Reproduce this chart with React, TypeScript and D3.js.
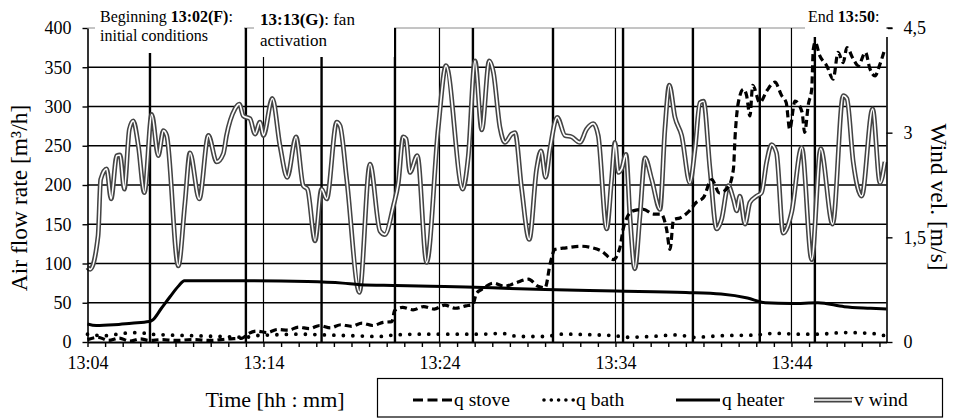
import React, { useEffect, useRef } from "react";
import * as d3 from "d3";

// time is in minutes after 13:04
const xTickLabels = ["13:04", "13:14", "13:24", "13:34", "13:44"];
const leftTicks = [0, 50, 100, 150, 200, 250, 300, 350, 400];
const rightTicks = [0, 1.5, 3, 4.5];
const eventMinutes = [3.55, 9.0, 13.3, 17.47, 21.9, 26.45, 30.43, 34.4, 38.2, 41.33];

// air flow rates [m3/h]
const qHeater: [number, number][] = [
  [0, 23], [0.5, 21], [1.5, 22], [2.5, 24], [3.5, 26], [3.7, 28], [4.2, 43], [4.7, 58],
  [5.2, 72], [5.5, 78], [9, 78], [12.5, 77], [14.5, 75], [15.5, 73], [17.5, 72], [19.5, 71],
  [21.5, 70], [23, 69], [26, 67], [30, 65], [34, 63], [36, 61], [37.5, 56], [38.5, 50],
  [40, 49], [41.5, 50], [43, 45], [44.5, 43], [45.4, 42],
];

const qStove: [number, number][] = [
  [0, 3], [0.6, 6], [1.2, 2], [1.8, 5], [2.4, 1], [3, 4], [3.5, 2], [4.2, 3], [5, 2], [6, 3],
  [7, 2], [8, 4], [8.8, 5], [9.1, 10], [9.6, 14], [10.2, 12], [10.8, 16], [11.4, 15], [12, 19],
  [12.6, 17], [13.2, 21], [13.8, 18], [14.4, 22], [15, 20], [15.6, 24], [16.2, 21], [16.8, 25],
  [17.3, 26], [17.45, 40], [17.9, 44], [18.5, 41], [19.1, 45], [19.7, 42], [20.3, 47], [20.9, 43],
  [21.5, 46], [21.9, 48], [22.1, 62], [22.4, 67], [23.06, 75], [23.7, 71], [24.3, 75], [25.05, 80],
  [25.6, 71], [26.0, 69], [26.3, 101], [26.56, 118], [27.2, 120], [28, 122], [28.7, 120],
  [29.2, 116], [29.87, 105], [30.25, 120], [30.44, 144], [30.6, 156], [31.0, 167], [31.6, 169],
  [32.15, 163], [32.6, 163], [32.9, 144], [33.1, 118], [33.3, 156], [33.66, 158], [34.2, 167],
  [34.6, 178], [35.0, 184], [35.47, 207], [35.9, 190], [36.4, 197], [36.7, 220], [36.8, 263],
  [36.98, 305], [37.27, 322], [37.45, 314], [37.64, 288], [37.8, 327], [38.2, 305], [38.6, 320],
  [39.06, 331], [39.44, 314], [39.7, 305], [39.9, 271], [40.2, 307], [40.6, 293], [40.75, 267],
  [40.96, 303], [41.15, 322], [41.24, 373], [41.35, 382], [41.6, 365], [42, 352], [42.37, 335],
  [42.65, 369], [42.94, 356], [43.15, 375], [43.5, 361], [43.8, 352], [44.2, 369], [44.46, 348],
  [44.75, 339], [45.0, 352], [45.3, 373],
];

const qBath: [number, number][] = [
  [0, 10], [1, 8], [2, 11], [3, 12], [3.5, 10], [4.5, 9], [6, 8], [7.5, 7], [9, 6], [9.5, 8],
  [10.5, 9], [12, 10], [13.5, 9], [15, 8], [16.5, 7], [17.5, 9], [19, 10], [21, 10], [22.5, 10],
  [23.5, 11], [24.5, 7], [26, 7], [27, 10], [29, 9], [30, 8], [30.5, 6], [32, 7], [33.5, 9],
  [34.5, 6], [36, 8], [38, 9], [39, 11], [40.5, 10], [41.5, 10], [43, 12], [44.5, 11], [45.3, 8],
];

// wind velocity [m/s]
const vWind: [number, number][] = [
  [0, 1.07], [0.15, 1.04], [0.6, 1.52], [0.75, 2.33], [1.09, 2.48], [1.34, 2.05], [1.66, 2.67],
  [1.85, 2.68], [2.09, 2.19], [2.38, 3.05], [2.6, 3.17], [2.89, 2.81], [3.23, 2.14], [3.65, 3.26],
  [4.02, 2.67], [4.31, 3.03], [4.5, 2.96], [5.16, 1.09], [5.54, 2.0], [5.82, 2.71], [6.35, 2.05],
  [6.87, 2.96], [7.34, 2.58], [7.72, 2.7], [7.9, 2.96], [8.38, 3.34], [8.63, 3.41], [8.85, 3.24],
  [9.23, 3.2], [9.52, 2.98], [9.8, 3.15], [10.0, 2.96], [10.5, 3.49], [10.94, 2.81], [11.35, 2.36],
  [11.85, 2.94], [12.26, 2.24], [12.5, 2.19], [12.93, 1.45], [13.3, 2.19], [13.59, 2.05],
  [14.16, 3.15], [14.35, 3.1], [14.73, 2.33], [15.45, 0.71], [16.05, 2.55], [16.62, 1.59],
  [16.9, 1.54], [17.38, 1.95], [17.66, 2.28], [17.94, 2.94], [18.1, 2.91], [18.32, 2.43],
  [18.74, 2.67], [19.27, 1.14], [19.93, 3.07], [20.37, 3.96], [21.32, 2.19], [21.64, 2.67],
  [22.02, 4.03], [22.4, 3.04], [22.83, 4.03], [23.06, 3.87], [23.44, 3.07], [23.72, 2.86],
  [24.1, 2.98], [24.29, 3.0], [24.67, 2.19], [25.1, 1.47], [25.52, 2.48], [25.77, 2.74],
  [26.03, 2.36], [26.28, 2.77], [26.69, 3.22], [27.13, 2.96], [27.51, 2.94], [27.98, 2.86],
  [28.36, 3.05], [28.74, 3.13], [29.02, 2.96], [29.5, 1.62], [29.78, 2.33], [29.97, 2.86],
  [30.16, 2.43], [30.35, 2.48], [30.6, 2.69], [30.82, 1.81], [31.1, 1.05], [31.39, 1.81],
  [31.68, 2.64], [32.06, 2.33], [32.53, 1.9], [32.81, 3.05], [33.06, 3.68], [33.38, 3.22],
  [33.76, 2.96], [34.23, 2.28], [34.52, 2.77], [34.8, 3.43], [35.0, 3.45], [35.37, 2.48],
  [35.75, 1.62], [36.03, 1.76], [36.41, 2.24], [36.7, 2.05], [36.89, 1.88], [37.07, 2.09],
  [37.36, 1.69], [37.64, 2.0], [38.02, 2.09], [38.3, 2.14], [38.59, 2.58], [38.87, 2.83],
  [39.15, 2.71], [39.53, 1.56], [40.01, 1.86], [40.58, 2.79], [41.15, 1.18], [41.66, 2.77],
  [42.34, 1.69], [42.94, 3.53], [43.15, 3.49], [43.51, 2.58], [43.99, 2.09], [44.61, 3.34],
  [45.03, 2.28], [45.31, 2.58],
];

const W = 955;
const H = 418;
const left = 87.5;
const right = 886.5;
const top = 28;
const bottom = 342;
const font = "'Liberation Serif', 'Times New Roman', serif";

const App = () => {
  const ref = useRef<SVGSVGElement>(null);

  useEffect(() => {
    const svg = d3.select(ref.current);
    svg.selectAll("*").remove();

    const x = d3.scaleLinear().domain([0, 45.4]).range([left, right]);
    const y = d3.scaleLinear().domain([0, 400]).range([bottom, top]);
    const yW = d3.scaleLinear().domain([0, 4.5]).range([bottom, top]);

    // plot border top
    svg.append("line")
      .attr("x1", left).attr("x2", right).attr("y1", top).attr("y2", top)
      .attr("stroke", "#8a8a8a").attr("stroke-width", 1);

    // horizontal grid
    svg.append("g").selectAll("line")
      .data(leftTicks.filter(d => d > 0 && d < 400))
      .join("line")
      .attr("x1", left).attr("x2", right)
      .attr("y1", d => y(d)).attr("y2", d => y(d))
      .attr("stroke", "#000").attr("stroke-width", 1.5);

    // vertical grid at the labelled ticks
    svg.append("g").selectAll("line")
      .data(xTickLabels.map((_, i) => i * 10).filter(d => d > 0))
      .join("line")
      .attr("x1", d => x(d)).attr("x2", d => x(d))
      .attr("y1", top).attr("y2", bottom)
      .attr("stroke", "#000").attr("stroke-width", 1.2);

    // event lines
    svg.append("g").selectAll("line")
      .data(eventMinutes)
      .join("line")
      .attr("x1", d => x(d)).attr("x2", d => x(d))
      .attr("y1", top).attr("y2", bottom)
      .attr("stroke", "#000").attr("stroke-width", 2.4);

    const line = d3.line<[number, number]>()
      .x(d => x(d[0])).y(d => y(d[1]))
      .curve(d3.curveMonotoneX);
    const lineW = d3.line<[number, number]>()
      .x(d => x(d[0])).y(d => yW(d[1]))
      .curve(d3.curveMonotoneX);

    // v wind: double line
    svg.append("path").attr("d", lineW(vWind)).attr("fill", "none")
      .attr("stroke", "#444").attr("stroke-width", 4.8).attr("stroke-linejoin", "round");
    svg.append("path").attr("d", lineW(vWind)).attr("fill", "none")
      .attr("stroke", "#fff").attr("stroke-width", 1.7).attr("stroke-linejoin", "round");

    // q heater
    svg.append("path").attr("d", line(qHeater)).attr("fill", "none")
      .attr("stroke", "#000").attr("stroke-width", 3);

    // q bath
    svg.append("path").attr("d", line(qBath)).attr("fill", "none")
      .attr("stroke", "#000").attr("stroke-width", 3.8)
      .attr("stroke-linecap", "round").attr("stroke-dasharray", "0 9.5");

    // q stove
    svg.append("path").attr("d", line(qStove)).attr("fill", "none")
      .attr("stroke", "#000").attr("stroke-width", 3.2)
      .attr("stroke-dasharray", "7 4");

    // axes
    const gl = svg.append("g").attr("transform", `translate(${left},0)`)
      .call(d3.axisLeft(y).tickValues(leftTicks).tickSizeInner(5).tickSizeOuter(0).tickPadding(11));
    const gr = svg.append("g").attr("transform", `translate(${right},0)`)
      .call(d3.axisRight(yW).tickValues(rightTicks).tickSizeInner(6).tickSizeOuter(0).tickPadding(11)
        .tickFormat(d => String(d).replace(".", ",")));
    const gb = svg.append("g").attr("transform", `translate(0,${bottom})`)
      .call(d3.axisBottom(x).tickValues(d3.range(0, 46)).tickSizeInner(5).tickSizeOuter(0).tickPadding(9)
        .tickFormat(d => (+d % 10 === 0 ? xTickLabels[+d / 10] : "")));

    [gl, gr, gb].forEach(g => {
      g.selectAll("text").attr("font-family", font).attr("font-size", 18).attr("fill", "#000");
      g.selectAll("line").attr("stroke", "#000").attr("stroke-width", 1.4);
      g.select(".domain").attr("stroke", "#000").attr("stroke-width", 1.6);
    });
    gb.select(".domain").attr("stroke-width", 2.2);

    // annotation boxes hide lines behind the labels
    const boxes = [
      { x0: 95, x1: 244, y1: 53 },
      { x0: 254, x1: 394, y1: 57 },
      { x0: 805, x1: 888, y1: 37 },
    ];
    svg.append("g").selectAll("rect").data(boxes).join("rect")
      .attr("x", d => d.x0).attr("y", 0)
      .attr("width", d => d.x1 - d.x0).attr("height", d => d.y1)
      .attr("fill", "#fff");
    // right axis top tick visible above box
    svg.append("line").attr("x1", right).attr("x2", right + 6).attr("y1", top).attr("y2", top)
      .attr("stroke", "#000").attr("stroke-width", 1.4);

    const t1 = svg.append("text").attr("x", 100).attr("y", 22)
      .attr("font-family", font).attr("font-size", 16);
    t1.append("tspan").text("Beginning ");
    t1.append("tspan").attr("font-weight", "bold").text("13:02(F)");
    t1.append("tspan").text(":");
    svg.append("text").attr("x", 100).attr("y", 41)
      .attr("font-family", font).attr("font-size", 16).text("initial conditions");

    const t2 = svg.append("text").attr("x", 260).attr("y", 25)
      .attr("font-family", font).attr("font-size", 17);
    t2.append("tspan").attr("font-weight", "bold").text("13:13(G)");
    t2.append("tspan").text(": fan");
    svg.append("text").attr("x", 260).attr("y", 46)
      .attr("font-family", font).attr("font-size", 17).text("activation");

    const t3 = svg.append("text").attr("x", 808).attr("y", 22)
      .attr("font-family", font).attr("font-size", 16);
    t3.append("tspan").text("End ");
    t3.append("tspan").attr("font-weight", "bold").text("13:50");
    t3.append("tspan").text(":");

    // axis titles
    svg.append("text")
      .attr("transform", `translate(27,198) rotate(-90)`)
      .attr("text-anchor", "middle").attr("font-family", font).attr("font-size", 23.5)
      .text("Air flow rate [m³/h]");
    svg.append("text")
      .attr("transform", `translate(931,197) rotate(90)`)
      .attr("text-anchor", "middle").attr("font-family", font).attr("font-size", 23.5)
      .text("Wind vel. [m/s]");
    svg.append("text")
      .attr("x", 275).attr("y", 407)
      .attr("text-anchor", "middle").attr("font-family", font).attr("font-size", 22)
      .text("Time [hh : mm]");

    // legend
    const lg = svg.append("g");
    lg.append("rect").attr("x", 377.5).attr("y", 378.5).attr("width", 565).attr("height", 38.5)
      .attr("fill", "#fff").attr("stroke", "#000").attr("stroke-width", 1.2);
    const ly = 400;
    const items = [
      { name: "q stove", x0: 413, x1: 452 },
      { name: "q bath", x0: 544, x1: 574 },
      { name: "q heater", x0: 676, x1: 720 },
      { name: "v wind", x0: 814, x1: 852 },
    ];
    items.forEach((it, i) => {
      if (i === 3) {
        lg.append("line").attr("x1", it.x0).attr("x2", it.x1).attr("y1", ly).attr("y2", ly)
          .attr("stroke", "#444").attr("stroke-width", 4.8);
        lg.append("line").attr("x1", it.x0).attr("x2", it.x1).attr("y1", ly).attr("y2", ly)
          .attr("stroke", "#fff").attr("stroke-width", 1.7);
      } else {
        const l = lg.append("line").attr("x1", it.x0).attr("x2", it.x1).attr("y1", ly).attr("y2", ly)
          .attr("stroke", "#000").attr("stroke-width", 3);
        if (i === 0) l.attr("stroke-dasharray", "10 4.5");
        if (i === 1) l.attr("stroke-width", 3.6).attr("stroke-linecap", "round").attr("stroke-dasharray", "0 7.3");
      }
      lg.append("text").attr("x", it.x1 + 2).attr("y", ly + 6)
        .attr("font-family", font).attr("font-size", 19.5).text(it.name);
    });
  }, []);

  return (
    <svg ref={ref} width={W} height={H}
      style={{ position: "absolute", left: 0, top: 0, background: "#fff" }} />
  );
};

export default App;
